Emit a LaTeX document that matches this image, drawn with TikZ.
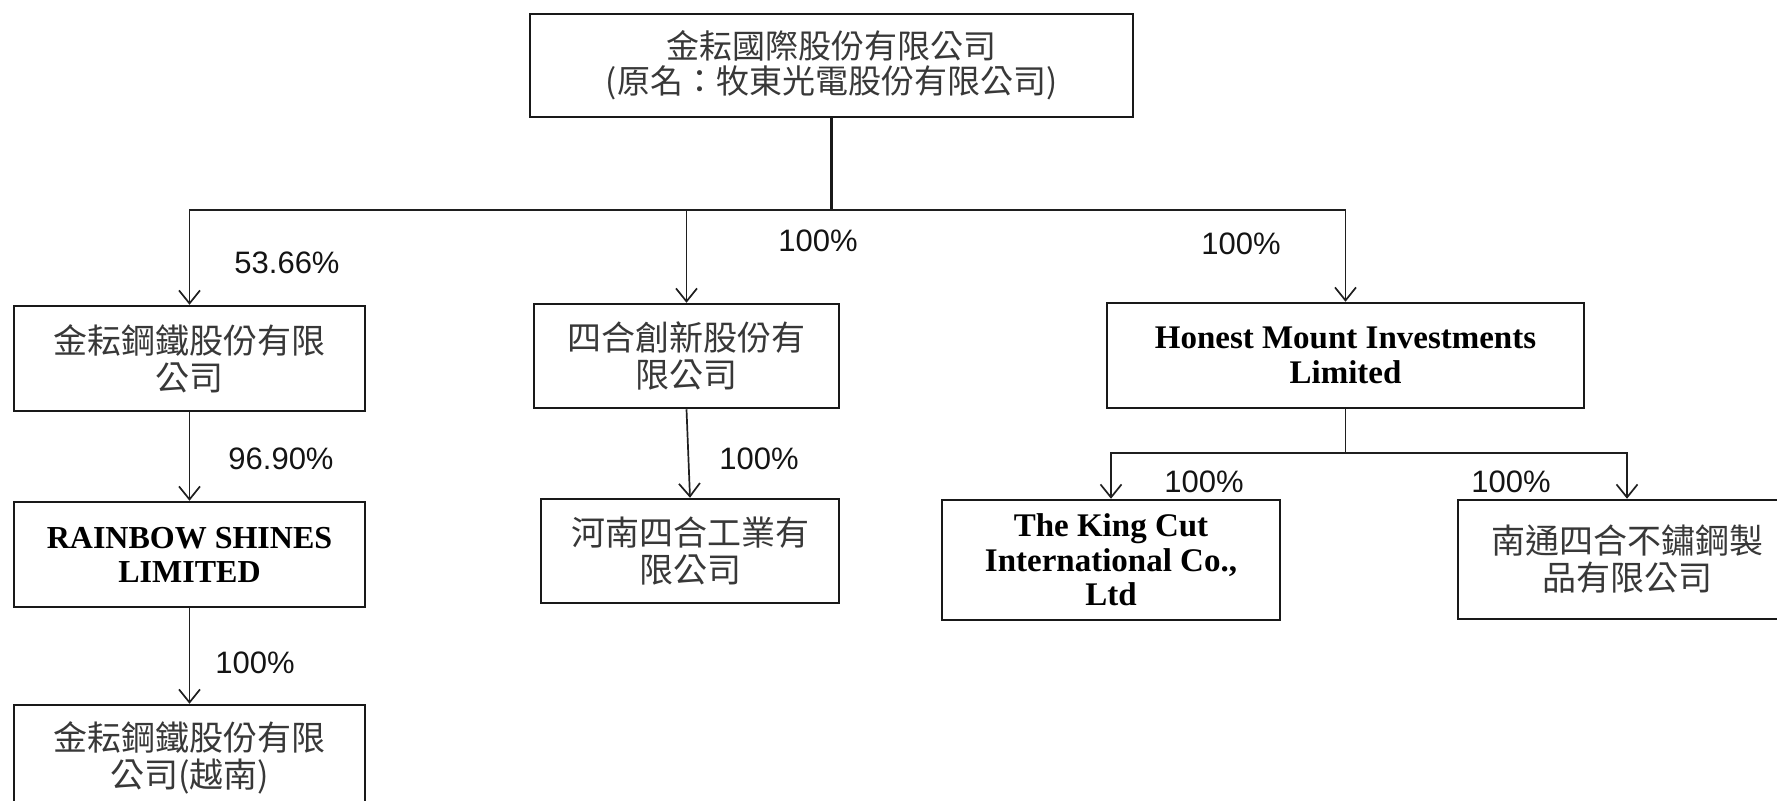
\documentclass[tikz,border=0pt]{standalone}
\usepackage{fontspec}
\setmainfont{Liberation Serif}
\newfontfamily\cjk{Noto Sans CJK TC}
\newfontfamily\pct{Liberation Sans}
\usetikzlibrary{arrows.meta}
\definecolor{cjkgray}{HTML}{383838}
\begin{document}
\begin{tikzpicture}[x=0.5pt,y=-0.5pt,
  box/.style={draw=black!90, line width=1.25pt, inner sep=0pt, align=center, anchor=center},
  cjkt/.style={font=\cjk\fontsize{17}{18.5}\selectfont, text=cjkgray},
  ent/.style={font=\bfseries\fontsize{16.5}{17.2}\selectfont, text=black},
  pl/.style={font=\pct\fontsize{15.5}{16}\selectfont, text=black!92},
  conn/.style={line width=0.85pt, draw=black!88},
  trunk/.style={line width=1.4pt, draw=black!90},
  arr/.style={conn, -{Straight Barb[length=6.5pt, width=10.5pt, line width=0.85pt]}}]
\useasboundingbox (0,0) rectangle (1777,800);
\clip (0,0) rectangle (1777,800);
% boxes
\node[box, cjkt, minimum width=301.5pt, minimum height=51.5pt, font=\cjk\fontsize{16.5}{17.5}\selectfont] (top) at (831.5,65.5) {金耘國際股份有限公司\\(原名：牧東光電股份有限公司)};
\node[box, cjkt, minimum width=175.5pt, minimum height=52.5pt] (jy1) at (189.5,358.5) {金耘鋼鐵股份有限\\公司};
\node[box, ent, minimum width=175.5pt, minimum height=52.5pt, font=\bfseries\fontsize{16}{17}\selectfont] (rb) at (189.5,554.5) {RAINBOW SHINES\\LIMITED};
\node[box, cjkt, minimum width=175.5pt, minimum height=52.5pt] (vn) at (189.5,757.5) {金耘鋼鐵股份有限\\公司(越南)};
\node[box, cjkt, minimum width=152.5pt, minimum height=52pt] (si) at (686.5,356) {四合創新股份有\\限公司};
\node[box, cjkt, minimum width=149pt, minimum height=52pt] (hn) at (690,551) {河南四合工業有\\限公司};
\node[box, ent, minimum width=238.5pt, minimum height=52.5pt] (ho) at (1345.5,355.5) {Honest Mount Investments\\Limited};
\node[box, ent, minimum width=169pt, minimum height=60pt] (kc) at (1111,560) {The King Cut\\International Co.,\\Ltd};
\node[box, cjkt, minimum width=169pt, minimum height=59.5pt] (nt) at (1627,559.5) {南通四合不鏽鋼製\\品有限公司};
% connectors
\coordinate (split) at (831.5,210);
\draw[trunk] (top.south) -- (split);
\draw[arr] (split) -| (jy1.north);
\draw[arr] (split) -| (si.north);
\draw[arr] (split) -| (ho.north);
\draw[arr] (jy1.south) -- (rb.north);
\draw[arr] (rb.south) -- (vn.north);
\draw[arr] (si.south) -- (hn.north);
\coordinate (split2) at (1345.5,453);
\draw[conn] (ho.south) -- (split2);
\draw[arr] (split2) -| (kc.north);
\draw[arr] (split2) -| (nt.north);
% labels
\node[pl] (l1) at (287,263) {53.66\%};
\node[pl] (l2) at (818,241) {100\%};
\node[pl] (l3) at (1241,244) {100\%};
\node[pl] (l4) at (281,459) {96.90\%};
\node[pl] (l5) at (255,663) {100\%};
\node[pl] (l6) at (759,459) {100\%};
\node[pl] (l7) at (1204,482) {100\%};
\node[pl] (l8) at (1511,482) {100\%};
\end{tikzpicture}
\end{document}
